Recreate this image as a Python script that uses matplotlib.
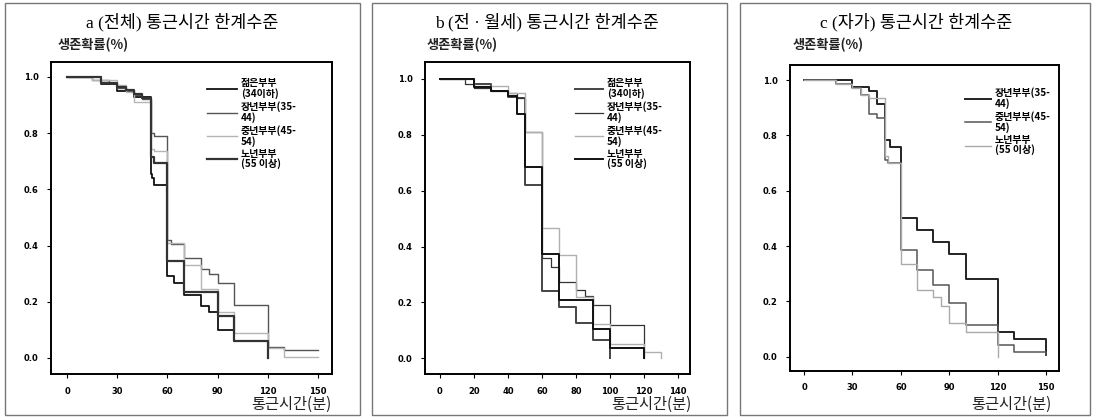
import numpy as np
import matplotlib.pyplot as plt
from matplotlib.patches import Rectangle

plt.rcParams['font.family'] = ['Noto Sans CJK KR', 'DejaVu Sans']

W, H = 1093, 418

# ---- data (survival curves) ----
# panel a (전체)
a_t_young = [0, 20, 30, 40, 50, 51, 52, 60, 64, 70, 80, 85, 90, 100, 120]
a_s_young = [1.0, 0.975, 0.95, 0.93, 0.655, 0.64, 0.615, 0.29, 0.265, 0.225, 0.185, 0.165, 0.10, 0.06, 0.0]
a_t_mid1 = [0, 15, 25, 30, 35, 40, 45, 50, 52, 60, 62, 70, 80, 85, 90, 100, 120, 130, 150]
a_s_mid1 = [1.0, 0.99, 0.98, 0.96, 0.95, 0.935, 0.92, 0.80, 0.79, 0.42, 0.405, 0.355, 0.315, 0.30, 0.265, 0.19, 0.04, 0.028, 0.028]
a_t_mid2 = [0, 15, 30, 35, 40, 50, 52, 60, 70, 80, 90, 100, 120, 130, 150]
a_s_mid2 = [1.0, 0.99, 0.97, 0.945, 0.91, 0.745, 0.735, 0.41, 0.33, 0.245, 0.165, 0.09, 0.035, 0.005, 0.005]
a_t_old = [0, 20, 30, 35, 40, 45, 50, 52, 60, 70, 90, 100, 120]
a_s_old = [1.0, 0.98, 0.965, 0.955, 0.94, 0.925, 0.715, 0.695, 0.345, 0.235, 0.15, 0.06, 0.0]

# panel b (전·월세)
b_t_young = [0, 20, 30, 40, 45, 50, 60, 70, 80, 90, 100]
b_s_young = [1.0, 0.983, 0.955, 0.935, 0.93, 0.62, 0.24, 0.185, 0.127, 0.065, 0.0]
b_t_mid1 = [0, 15, 20, 30, 40, 45, 50, 60, 65, 70, 80, 85, 90, 100, 120]
b_s_mid1 = [1.0, 0.983, 0.968, 0.955, 0.95, 0.93, 0.81, 0.36, 0.325, 0.274, 0.244, 0.223, 0.19, 0.121, 0.0]
b_t_mid2 = [0, 20, 40, 50, 60, 70, 80, 90, 100, 120, 130]
b_s_mid2 = [1.0, 0.975, 0.95, 0.81, 0.465, 0.37, 0.22, 0.123, 0.051, 0.024, 0.0]
b_t_old = [0, 20, 30, 40, 45, 50, 60, 70, 90, 100, 120]
b_s_old = [1.0, 0.97, 0.955, 0.94, 0.875, 0.685, 0.375, 0.21, 0.104, 0.036, 0.0]

# panel c (자가)
c_t_mid1 = [0, 30, 40, 45, 50, 53, 60, 70, 80, 90, 100, 120, 130, 150]
c_s_mid1 = [1.0, 0.977, 0.96, 0.913, 0.784, 0.76, 0.50, 0.459, 0.416, 0.37, 0.28, 0.088, 0.065, 0.005]
c_t_mid2 = [0, 20, 30, 35, 40, 45, 50, 52, 60, 70, 80, 90, 100, 120, 130, 150]
c_s_mid2 = [1.0, 0.987, 0.97, 0.947, 0.877, 0.863, 0.712, 0.70, 0.386, 0.314, 0.26, 0.193, 0.115, 0.042, 0.016, 0.005]
c_t_old = [0, 20, 30, 35, 40, 50, 52, 60, 70, 80, 85, 90, 100, 120]
c_s_old = [1.0, 0.987, 0.97, 0.945, 0.935, 0.725, 0.70, 0.335, 0.241, 0.214, 0.183, 0.12, 0.09, 0.0]

lab_young = '젊은부부\n(34이하)'
lab_mid1 = '장년부부(35-\n44)'
lab_mid2 = '중년부부(45-\n54)'
lab_old = '노년부부\n(55 이상)'

a_xticks = [0, 30, 60, 90, 120, 150]
b_xticks = [0, 20, 40, 60, 80, 100, 120, 140]
c_xticks = [0, 30, 60, 90, 120, 150]
yticks = [0.0, 0.2, 0.4, 0.6, 0.8, 1.0]

fig = plt.figure(figsize=(W / 100, H / 100), dpi=100)


def px_rect(l, t, r, b):
    return [l / W, (H - b) / H, (r - l) / W, (b - t) / H]


def fx(x):
    return x / W


def fy(y):
    return (H - y) / H


# panel boxes
for (l, t, r, b) in [(5, 3, 360, 415), (372, 3, 727, 415), (740, 3, 1090, 415)]:
    fig.patches.append(Rectangle((fx(l), fy(b)), (r - l) / W, (b - t) / H,
                                 transform=fig.transFigure, fill=False,
                                 edgecolor='#777777', lw=1.0))

panels = [
    dict(rect=px_rect(51, 62, 332, 374), xlim=(-9.6, 158.4), ylim=(-0.057, 1.053),
         xticks=a_xticks, title='a (전체) 통근시간 한계수준', tx=182, ylx=58, xlr=331,
         leg=(0.54, 0.96), hl=3.0,
         series=[(a_t_young, a_s_young, lab_young, '#111111', 1.3),
                 (a_t_mid1, a_s_mid1, lab_mid1, '#555555', 1.0),
                 (a_t_mid2, a_s_mid2, lab_mid2, '#b5b5b5', 1.0),
                 (a_t_old, a_s_old, lab_old, '#333333', 1.6)]),
    dict(rect=px_rect(425, 62, 690, 374), xlim=(-8.8, 147), ylim=(-0.056, 1.06),
         xticks=b_xticks, title='b (전 · 월세) 통근시간 한계수준', tx=547, ylx=427, xlr=692,
         leg=(0.55, 0.96), hl=2.8,
         series=[(b_t_young, b_s_young, lab_young, '#444444', 1.4),
                 (b_t_mid1, b_s_mid1, lab_mid1, '#333333', 0.9),
                 (b_t_mid2, b_s_mid2, lab_mid2, '#b0b0b0', 1.0),
                 (b_t_old, b_s_old, lab_old, '#111111', 1.4)]),
    dict(rect=px_rect(790, 65, 1059, 371), xlim=(-8.7, 157.9), ylim=(-0.052, 1.055),
         xticks=c_xticks, title='c (자가) 통근시간 한계수준', tx=916, ylx=793, xlr=1051,
         leg=(0.635, 0.94), hl=2.6,
         series=[(c_t_mid1, c_s_mid1, lab_mid1, '#222222', 1.4),
                 (c_t_mid2, c_s_mid2, lab_mid2, '#555555', 1.1),
                 (c_t_old, c_s_old, lab_old, '#aaaaaa', 1.0)]),
]

for p in panels:
    ax = fig.add_axes(p['rect'])
    for t, s, lab, col, lw in p['series']:
        ax.step(t, s, where='post', color=col, lw=lw, label=lab)
    ax.set_xlim(*p['xlim'])
    ax.set_ylim(*p['ylim'])
    ax.set_xticks(p['xticks'])
    ax.set_xticklabels([str(v) for v in p['xticks']], fontsize=6, fontweight='bold',
                       family=['DejaVu Sans'])
    ax.set_yticks(yticks)
    ax.set_yticklabels([f'{v:.1f}' for v in yticks], fontsize=6, fontweight='bold',
                       family=['DejaVu Sans'])
    ax.tick_params(direction='out', length=3, width=0.8, pad=6)
    for sp in ax.spines.values():
        sp.set_linewidth(1.4)
    leg = ax.legend(loc='upper left', bbox_to_anchor=p['leg'], frameon=False,
                    prop=dict(size=7.2, weight='bold'), handlelength=p['hl'],
                    handletextpad=0.4, labelspacing=0.2, borderaxespad=0)
    for txt in leg.get_texts():
        txt.set_linespacing(1.0)
    fig.text(fx(p['tx']), fy(22), p['title'], ha='center', va='center', fontsize=12.5,
             family=['Liberation Serif', 'Noto Sans CJK KR'])
    fig.text(fx(p['ylx']), fy(45), '생존확률(%)', ha='left', va='center', fontsize=9.5,
             fontweight='bold', color='#222222')
    fig.text(fx(p['xlr']), fy(404), '통근시간(분)', ha='right', va='center', fontsize=11,
             color='#222222')

fig.savefig('out.png', dpi=100)
